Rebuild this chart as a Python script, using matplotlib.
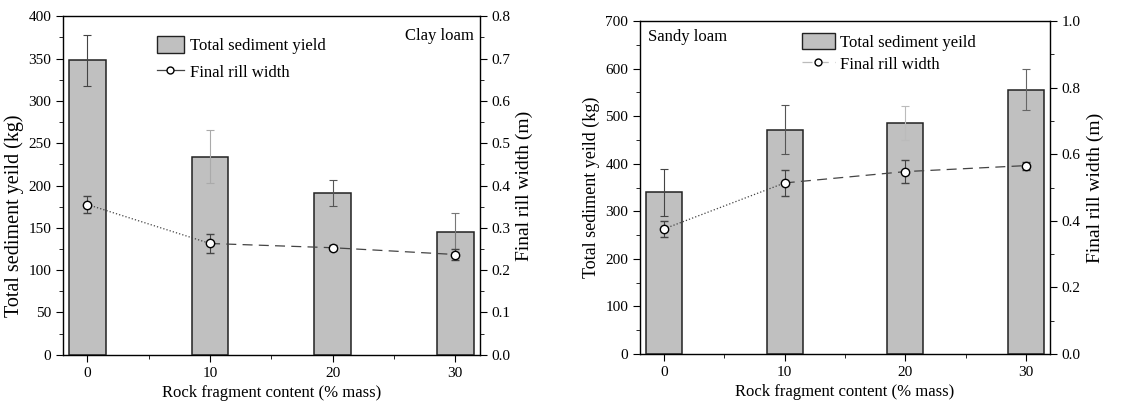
import matplotlib.pyplot as plt
from matplotlib.ticker import MultipleLocator
from matplotlib.lines import Line2D
from matplotlib.patches import Patch

plt.rcParams["font.family"] = ["Liberation Serif", "DejaVu Serif"]

rock = [0, 10, 20, 30]

# clay loam
clay_sed = [348, 234, 191, 145]
clay_sed_err = [30, 31, 15, 23]
clay_width = [0.355, 0.263, 0.253, 0.237]
clay_width_err = [0.020, 0.023, 0.006, 0.012]

# sandy loam
sandy_sed = [340, 472, 486, 556]
sandy_sed_err = [50, 51, 35, 43]
sandy_width = [0.376, 0.514, 0.548, 0.566]
sandy_width_err = [0.025, 0.040, 0.035, 0.012]

BAR = "#c0c0c0"


def panel(ax, sed, sed_err, width, width_err, ymax, ymajor, yminor,
          wmax, wmajor, wminor, err_colors, ylab_size, y2lab_size):
    ax.bar(rock, sed, width=3, color=BAR, edgecolor="#222222", linewidth=1.1, zorder=2)
    for x, s, e, c in zip(rock, sed, sed_err, err_colors):
        ax.errorbar([x], [s], yerr=[e], fmt="none", ecolor=c, elinewidth=0.8,
                    capsize=3, capthick=0.8, zorder=3)
    ax.set_xlim(-2, 32)
    ax.set_ylim(0, ymax)
    ax.set_xticks(rock)
    ax.xaxis.set_minor_locator(MultipleLocator(5))
    ax.yaxis.set_major_locator(MultipleLocator(ymajor))
    ax.yaxis.set_minor_locator(MultipleLocator(yminor))
    ax.tick_params(which="both", direction="out", labelsize=11)
    ax.tick_params(which="major", length=5)
    ax.tick_params(which="minor", length=3)
    ax.set_xlabel("Rock fragment content (% mass)", fontsize=12)
    ax.set_ylabel("Total sediment yeild (kg)", fontsize=ylab_size)
    for s in ax.spines.values():
        s.set_linewidth(1.0)
        s.set_color("#333333")

    ax2 = ax.twinx()
    ax2.set_ylim(0, wmax)
    ax2.yaxis.set_major_locator(MultipleLocator(wmajor))
    ax2.yaxis.set_minor_locator(MultipleLocator(wminor))
    ax2.yaxis.set_major_formatter(plt.FuncFormatter(lambda v, p: f"{v:.1f}"))
    ax2.tick_params(which="both", direction="out", labelsize=11)
    ax2.tick_params(which="major", length=5)
    ax2.tick_params(which="minor", length=3)
    ax2.set_ylabel("Final rill width (m)", fontsize=y2lab_size)
    ax2.plot(rock[:2], width[:2], color="#444444", linestyle=":", linewidth=0.9, zorder=3)
    ax2.plot(rock[1:], width[1:], color="#444444", linestyle=(0, (8, 5)), linewidth=0.9, zorder=3)
    ax2.errorbar(rock, width, yerr=width_err, fmt="o", color="#444444", mfc="white",
                 mec="black", ms=6, mew=1.0, elinewidth=0.8, capsize=3, capthick=0.8, zorder=4)
    return ax2


fig = plt.figure(figsize=(11.45, 4.15), dpi=100)
ax1 = fig.add_axes([0.055, 0.145, 0.364, 0.816])
ax3 = fig.add_axes([0.559, 0.147, 0.358, 0.802])

ax1b = panel(ax1, clay_sed, clay_sed_err, clay_width, clay_width_err, 400, 50, 25,
             0.8, 0.1, 0.05, ["#444444", "#aaaaaa", "#555555", "#777777"], 14.5, 14)
ax1.yaxis.set_label_coords(-0.093, 0.41)
ax1.text(0.985, 0.965, "Clay loam", transform=ax1.transAxes, fontsize=12,
         ha="right", va="top")
h1 = [Patch(facecolor=BAR, edgecolor="#222222", linewidth=1.0),
      Line2D([], [], color="#444444", marker="o", mfc="white", mec="black",
             ms=5, linewidth=0.9)]
ax1b.legend(h1, ["Total sediment yield", "Final rill width"], loc="upper left",
            bbox_to_anchor=(0.21, 0.96), frameon=False, fontsize=12,
            handlelength=1.6, handleheight=1.15, handletextpad=0.4,
            labelspacing=0.5, borderaxespad=0)

ax3b = panel(ax3, sandy_sed, sandy_sed_err, sandy_width, sandy_width_err, 700, 100, 50,
             1.0, 0.2, 0.1, ["#444444", "#555555", "#bbbbbb", "#666666"], 13, 14)
ax3.text(0.02, 0.975, "Sandy loam", transform=ax3.transAxes, fontsize=12,
         ha="left", va="top")
h3 = [Patch(facecolor=BAR, edgecolor="#222222", linewidth=1.0),
      Line2D([], [], color="#bbbbbb", marker="o", mfc="white", mec="black",
             ms=5, linewidth=0.9, linestyle=(0, (8, 5)))]
ax3b.legend(h3, ["Total sediment yeild", "Final rill width"], loc="upper left",
            bbox_to_anchor=(0.378, 0.985), frameon=False, fontsize=12,
            handlelength=2.0, handleheight=1.15, handletextpad=0.3,
            labelspacing=0.25, borderaxespad=0)

fig.savefig("out.png", dpi=100)
